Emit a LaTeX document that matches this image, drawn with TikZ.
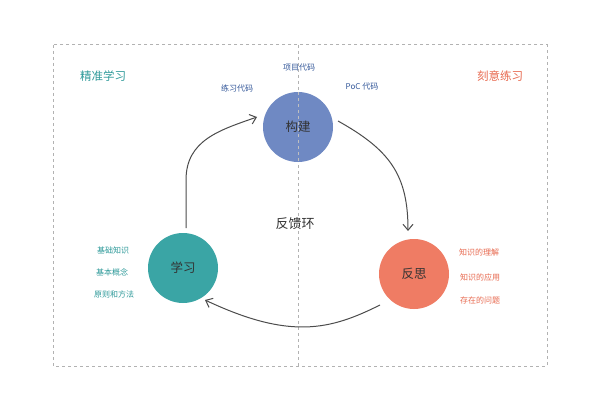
\documentclass[tikz,border=0pt]{standalone}
\usepackage{fontspec}
\newfontfamily\cjk{Noto Sans CJK SC}
\usetikzlibrary{arrows.meta}
\definecolor{cblue}{HTML}{6F89C3}
\definecolor{cteal}{HTML}{3AA5A5}
\definecolor{csal}{HTML}{EF7C64}
\definecolor{tblue}{HTML}{34589A}
\definecolor{tteal}{HTML}{2E9A9A}
\definecolor{tsal}{HTML}{E8694F}
\begin{document}
\begin{tikzpicture}[x=1pt,y=-1pt,font=\cjk,
  circ/.style={circle,minimum size=70pt,inner sep=0pt,font=\cjk\fontsize{12.5}{14}\selectfont,text=black!80},
  lbl/.style={font=\cjk\fontsize{8}{9}\selectfont},
  arr/.style={draw=black!70,line width=1pt,-{Straight Barb[length=6pt,width=10pt]}}]
\useasboundingbox[fill=white] (0,0) rectangle (600,412);
\draw[gray!60,dashed,line width=1pt] (53,45) rectangle (547,366);
\draw[gray!60,dashed,line width=1pt] (298,45) -- (298,366);
\node[circ,fill=cblue] (g) at (298,127) {构建};
\node[circ,fill=cteal] (x) at (183,268) {学习};
\node[circ,fill=csal] (f) at (414,274) {反思};
\draw[gray!50,dashed,line width=0.6pt] (298,92) -- (298,162);
\node[font=\cjk\fontsize{11.5}{13}\selectfont,text=tteal] (t1) at (103,76) {精准学习};
\node[font=\cjk\fontsize{11.5}{13}\selectfont,text=tsal] (t2) at (500,76) {刻意练习};
\node[lbl,text=tblue] (p1) at (299,68) {项目代码};
\node[lbl,text=tblue] (p2) at (237,88) {练习代码};
\node[lbl,text=tblue] (p3) at (362,87) {PoC 代码};
\node[font=\cjk\fontsize{13}{15}\selectfont,text=black!80] (fk) at (295,224) {反馈环};
\node[lbl,text=tteal] (l1) at (113,250) {基础知识};
\node[lbl,text=tteal] (l2) at (112,272) {基本概念};
\node[lbl,text=tteal] (l3) at (114,294) {原则和方法};
\node[lbl,text=tsal] (r1) at (479,252) {知识的理解};
\node[lbl,text=tsal] (r2) at (480,277) {知识的应用};
\node[lbl,text=tsal] (r3) at (480,300) {存在的问题};
\coordinate (a1) at (186,228);
\coordinate (a2) at (257,117);
\coordinate (b1) at (338,121);
\coordinate (b2) at (408,231);
\coordinate (c1) at (380,305);
\coordinate (c2) at (205,300);
\draw[arr] (a1) -- (186,180) .. controls (186,140) and (220,130) .. (a2);
\draw[arr] (b1) .. controls (390,150) and (408,175) .. (b2);
\draw[arr] (c1) .. controls (330,330) and (290,340) .. (c2);
\end{tikzpicture}
\end{document}
